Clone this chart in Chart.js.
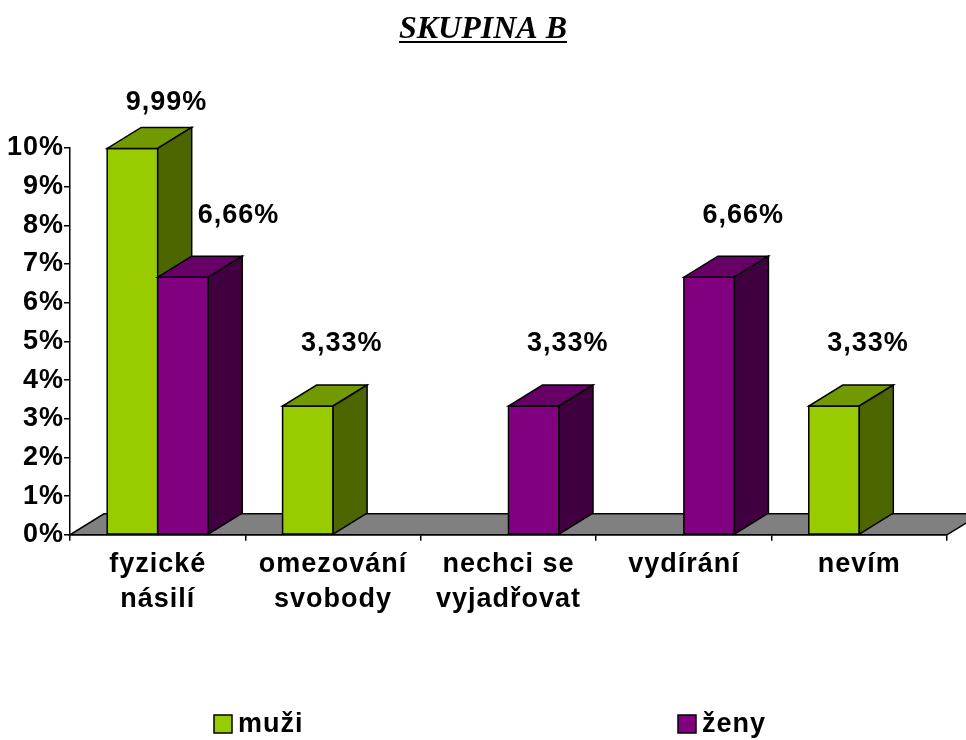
<!DOCTYPE html>
<html>
<head>
<meta charset="utf-8">
<style>
  html, body { margin: 0; padding: 0; background: #ffffff; }
  #wrap { width: 966px; height: 740px; }
</style>
<script src="https://cdn.jsdelivr.net/npm/chart.js@4.4.0/dist/chart.umd.min.js"></script>
</head>
<body>
<div id="wrap"><canvas id="c" width="966" height="740"></canvas></div>
<script>
// ---- data ----
const chartTitle = 'SKUPINA B';
const categories = [['fyzické', 'násilí'], ['omezování', 'svobody'], ['nechci se', 'vyjadřovat'], ['vydírání'], ['nevím']];
const seriesNames = ['muži', 'ženy'];
const muzi = [9.99, 3.33, 0, 0, 3.33];
const zeny = [6.66, 0, 3.33, 6.66, 0];
const yMin = 0;
const yMax = 10;
const yStep = 1;

// ---- styles ----
const FONT = '"Liberation Sans", Arial, Helvetica, sans-serif';
const FS = 27;
const SPACING = '1px';
const DX = 34, DY = -21;
const faces = [
  { front: '#99CC00', top: '#739900', side: '#4D6600' },
  { front: '#800080', top: '#660066', side: '#400040' }
];
const fmt = v => v.toFixed(2).replace('.', ',') + '%';

Chart.defaults.font.family = FONT;
Chart.defaults.font.weight = 'bold';
Chart.defaults.color = '#000000';

function poly(ctx, pts, fill) {
  ctx.beginPath();
  ctx.moveTo(pts[0][0], pts[0][1]);
  for (let i = 1; i < pts.length; i++) ctx.lineTo(pts[i][0], pts[i][1]);
  ctx.closePath();
  ctx.fillStyle = fill;
  ctx.fill();
  ctx.stroke();
}

const spacingPlugin = {
  id: 'spacing',
  beforeUpdate(chart) { chart.ctx.letterSpacing = SPACING; },
  beforeDraw(chart) { chart.ctx.letterSpacing = SPACING; }
};

const floorPlugin = {
  id: 'floor3d',
  beforeDatasetsDraw(chart) {
    const { ctx, chartArea: a } = chart;
    ctx.save();
    ctx.strokeStyle = '#000000';
    ctx.lineWidth = 1.5;
    ctx.lineJoin = 'miter';
    poly(ctx, [[a.left, a.bottom], [a.right, a.bottom], [a.right + DX, a.bottom + DY], [a.left + DX, a.bottom + DY]], '#808080');
    ctx.restore();
  }
};

const bars3dPlugin = {
  id: 'bars3d',
  afterDatasetsDraw(chart) {
    const { ctx, chartArea: a } = chart;
    const ds = chart.data.datasets;
    const labelsToDraw = [];
    ctx.save();
    ctx.strokeStyle = '#000000';
    ctx.lineWidth = 1.5;
    ctx.lineJoin = 'miter';
    for (let i = 0; i < chart.data.labels.length; i++) {
      let prevRight = null, prevTop = null;
      for (let d = 0; d < ds.length; d++) {
        const v = ds[d].data[i];
        if (!v) continue;
        const el = chart.getDatasetMeta(d).data[i];
        const { x, y, base, width } = el.getProps(['x', 'y', 'base', 'width'], true);
        const l = x - width / 2, r = x + width / 2;
        const f = faces[d];
        poly(ctx, [[l, y], [r, y], [r, base], [l, base]], f.front);
        poly(ctx, [[l, y], [r, y], [r + DX, y + DY], [l + DX, y + DY]], f.top);
        poly(ctx, [[r, y], [r + DX, y + DY], [r + DX, base + DY], [r, base]], f.side);
        const lx = x + DX;
        const ly = Math.max(y + DY - 41, a.top - 45);
        labelsToDraw.push({ text: fmt(v), x: lx, y: ly, prevRight, prevTop });
        prevRight = r + DX;
        prevTop = y + DY;
      }
    }
    ctx.font = 'bold ' + FS + 'px ' + FONT;
    ctx.fillStyle = '#000000';
    ctx.textAlign = 'left';
    ctx.textBaseline = 'middle';
    labelsToDraw.forEach(L => {
      const w = ctx.measureText(L.text).width;
      let left = L.x - w / 2;
      if (L.prevRight !== null && L.prevTop < L.y && left < L.prevRight + 6) left = L.prevRight + 6;
      ctx.fillText(L.text, left, L.y);
    });
    ctx.restore();
  }
};

const decorPlugin = {
  id: 'decor',
  afterDraw(chart) {
    const ctx = chart.ctx;
    const W = chart.width;
    ctx.save();
    // title
    ctx.letterSpacing = '0px';
    ctx.font = 'italic bold 32px "Liberation Serif", "Times New Roman", serif';
    ctx.fillStyle = '#000000';
    ctx.textAlign = 'center';
    ctx.textBaseline = 'alphabetic';
    const cx = W / 2;
    ctx.fillText(chartTitle, cx, 38);
    const tw = ctx.measureText(chartTitle).width;
    ctx.fillRect(cx - tw / 2, 41, tw, 2);
    // legend
    ctx.letterSpacing = SPACING;
    ctx.font = 'bold ' + FS + 'px ' + FONT;
    ctx.textAlign = 'left';
    ctx.textBaseline = 'middle';
    const legendX = [W / 2 - 269, W / 2 + 195];
    const legendY = 724;
    ctx.strokeStyle = '#000000';
    ctx.lineWidth = 1.5;
    seriesNames.forEach((name, k) => {
      const bx = legendX[k];
      ctx.fillStyle = faces[k].front;
      ctx.fillRect(bx, legendY - 9, 18, 18);
      ctx.strokeRect(bx, legendY - 9, 18, 18);
      ctx.fillStyle = '#000000';
      ctx.fillText(name, bx + 24, legendY + 1);
    });
    ctx.restore();
  }
};

new Chart(document.getElementById('c'), {
  type: 'bar',
  data: {
    labels: categories,
    datasets: [
      { label: seriesNames[0], data: muzi, backgroundColor: 'rgba(0,0,0,0)', borderWidth: 0 },
      { label: seriesNames[1], data: zeny, backgroundColor: 'rgba(0,0,0,0)', borderWidth: 0 }
    ]
  },
  options: {
    responsive: false,
    animation: false,
    events: [],
    layout: { padding: { left: 6, right: 19, top: 148, bottom: 117 } },
    datasets: { bar: { categoryPercentage: 0.576, barPercentage: 1 } },
    plugins: {
      legend: { display: false },
      title: { display: false },
      tooltip: { enabled: false }
    },
    scales: {
      x: {
        grid: { display: true, drawOnChartArea: false, drawTicks: true, tickLength: 6, color: '#000000', lineWidth: 1.5, offset: true },
        border: { display: true, color: '#000000', width: 1.5 },
        ticks: { font: { size: FS, weight: 'bold', lineHeight: 1.3 }, padding: 6, color: '#000000', maxRotation: 0, autoSkip: false }
      },
      y: {
        min: yMin,
        max: yMax,
        afterFit(scale) { scale.width = 64; },
        grid: { display: true, drawOnChartArea: false, drawTicks: true, tickLength: 6, color: '#000000', lineWidth: 1.5 },
        border: { display: true, color: '#000000', width: 1.5 },
        ticks: { stepSize: yStep, padding: 0, font: { size: FS, weight: 'bold' }, color: '#000000', callback: v => v + '%' }
      }
    }
  },
  plugins: [spacingPlugin, floorPlugin, bars3dPlugin, decorPlugin]
});
</script>
</body>
</html>
